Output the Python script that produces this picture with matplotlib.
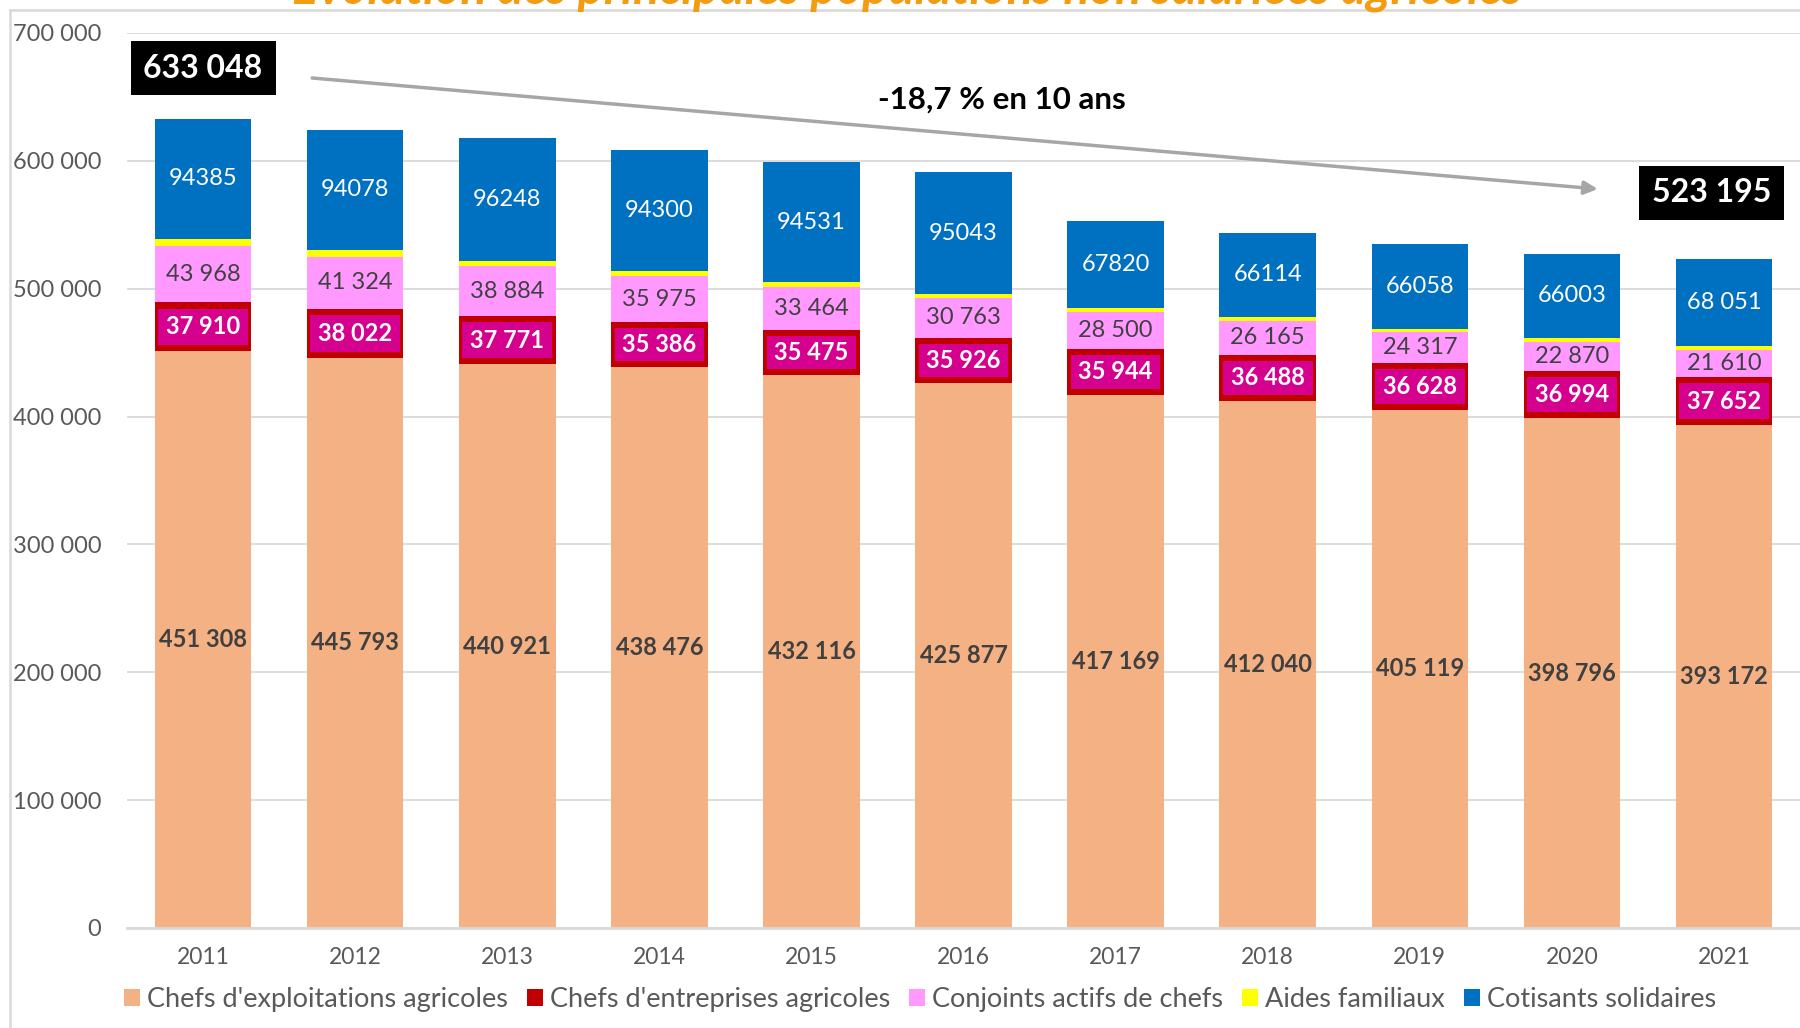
"""Evolution des principales populations non salariées agricoles, 2011-2021.

Stacked bars, 5 populations, with totals boxed and a trend arrow.
"""

import matplotlib.pyplot as plt
from matplotlib.lines import Line2D
from matplotlib.patches import Patch
from matplotlib.ticker import FuncFormatter, MultipleLocator

plt.rcParams['font.family'] = ['Lato', 'DejaVu Sans']

YEARS = ['2011', '2012', '2013', '2014', '2015', '2016',
         '2017', '2018', '2019', '2020', '2021']

EXPLOITATIONS = [451308, 445793, 440921, 438476, 432116, 425877,
                 417169, 412040, 405119, 398796, 393172]
ENTREPRISES = [37910, 38022, 37771, 35386, 35475, 35926,
               35944, 36488, 36628, 36994, 37652]
CONJOINTS = [43968, 41324, 38884, 35975, 33464, 30763,
             28500, 26165, 24317, 22870, 21610]
# not labelled in the source
AIDES = [5477, 5300, 4400, 4100, 3800, 3400, 3200, 3000, 2800, 2700, 2710]
COTISANTS = [94385, 94078, 96248, 94300, 94531, 95043,
             67820, 66114, 66058, 66003, 68051]
COTISANTS_LABELS = ['94385', '94078', '96248', '94300', '94531', '95043',
                    '67820', '66114', '66058', '66003', '68 051']

SERIES_NAMES = ["Chefs d'exploitations agricoles", "Chefs d'entreprises agricoles",
                "Conjoints actifs de chefs", "Aides familiaux", "Cotisants solidaires"]

TOTAL_START = '633 048'
TOTAL_END = '523 195'
TREND_TEXT = '-18,7 % en 10 ans'
TITLE = 'Evolution des principales populations non salariées agricoles'

COLORS = ['#F4B183', '#C00000', '#FF99FF', '#FFFF00', '#0070C0']
MAGENTA = '#D6008F'
GRID = '#D9D9D9'
TXT = '#595959'
DARK = '#404040'


def fmt(v):
    return f'{int(v):,}'.replace(',', ' ')


def main():
    fig = plt.figure(figsize=(18, 10.28), dpi=100)
    ax = fig.add_axes([0.0706, 0.0973, 0.9294, 0.8706])

    x = list(range(len(YEARS)))
    width = 0.635
    bottom = [0] * len(YEARS)
    series = [EXPLOITATIONS, ENTREPRISES, CONJOINTS, AIDES, COTISANTS]
    bottoms = []
    for vals, col in zip(series, COLORS):
        bottoms.append(list(bottom))
        ax.bar(x, vals, width, bottom=bottom, color=col, zorder=2)
        bottom = [b + v for b, v in zip(bottom, vals)]

    # magenta label box inside the red segment
    margin = 4700
    b_ent = bottoms[1]
    ax.bar(x, [v - 2 * margin for v in ENTREPRISES], 0.59,
           bottom=[b + margin for b in b_ent], color=MAGENTA, zorder=3)

    lab = 17
    for i in x:
        ax.text(i, EXPLOITATIONS[i] / 2, fmt(EXPLOITATIONS[i]), ha='center', va='center',
                fontsize=lab, fontweight='bold', color=DARK, zorder=4)
        ax.text(i, b_ent[i] + ENTREPRISES[i] / 2, fmt(ENTREPRISES[i]), ha='center',
                va='center', fontsize=lab, fontweight='bold', color='white', zorder=4)
        ax.text(i, bottoms[2][i] + CONJOINTS[i] / 2, fmt(CONJOINTS[i]), ha='center',
                va='center', fontsize=lab, color=DARK, zorder=4)
        ax.text(i, bottoms[4][i] + COTISANTS[i] / 2, COTISANTS_LABELS[i], ha='center',
                va='center', fontsize=lab, color='white', zorder=4)

    ax.set_xlim(-0.5, 10.5)
    ax.set_ylim(0, 700000)
    ax.yaxis.set_major_locator(MultipleLocator(100000))
    ax.yaxis.set_major_formatter(FuncFormatter(lambda v, _: fmt(v)))
    ax.set_xticks(x)
    ax.set_xticklabels(YEARS)
    ax.tick_params(axis='y', length=0, pad=18.5, labelsize=17, labelcolor=TXT)
    ax.tick_params(axis='x', length=0, pad=14, labelsize=16.5, labelcolor=TXT)
    ax.grid(axis='y', color=GRID, lw=1.3, zorder=0)
    ax.set_axisbelow(True)
    for side in ['top', 'right', 'left']:
        ax.spines[side].set_visible(False)
    ax.spines['bottom'].set_color(GRID)
    ax.spines['bottom'].set_linewidth(2)

    # totals and trend
    box = dict(boxstyle='square,pad=0.4', facecolor='black', edgecolor='none')
    ax.text(0, 672600, TOTAL_START, ha='center', va='center', fontsize=23,
            fontweight='bold', color='white', bbox=box, zorder=5)
    ax.text(9.92, 574900, TOTAL_END, ha='center', va='center', fontsize=23,
            fontweight='bold', color='white', bbox=box, zorder=5)
    ax.annotate('', xy=(9.17, 578000), xytext=(0.717, 664800),
                arrowprops=dict(arrowstyle='-|>', color='#A6A6A6', lw=2.5,
                                mutation_scale=20, shrinkA=0, shrinkB=0), zorder=5)
    ax.text(5.25, 647600, TREND_TEXT, ha='center', va='center', fontsize=22.5,
            fontweight='bold', color='black', zorder=5)

    handles = [Patch(facecolor=c, edgecolor='none') for c in COLORS]
    fig.legend(handles, SERIES_NAMES, loc='center', bbox_to_anchor=(0.511, 0.028),
               ncol=5, frameon=False, fontsize=19.5, labelcolor=TXT,
               handlelength=0.6, handleheight=0.6, handletextpad=0.25,
               columnspacing=0.7)

    # chart frame and clipped title (cut off at the top, as in the source)
    fig.add_artist(Line2D([0.0055, 0.0055], [0, 0.9903], color=GRID, lw=1.8,
                          transform=fig.transFigure))
    fig.add_artist(Line2D([0.0055, 1], [0.9903, 0.9903], color=GRID, lw=1.8,
                          transform=fig.transFigure))
    fig.text(0.504, 0.997, TITLE, ha='center', va='baseline', fontsize=35,
             fontweight='bold', fontstyle='italic', color='#F39C12')

    fig.savefig('out.png', dpi=100)


if __name__ == '__main__':
    main()
